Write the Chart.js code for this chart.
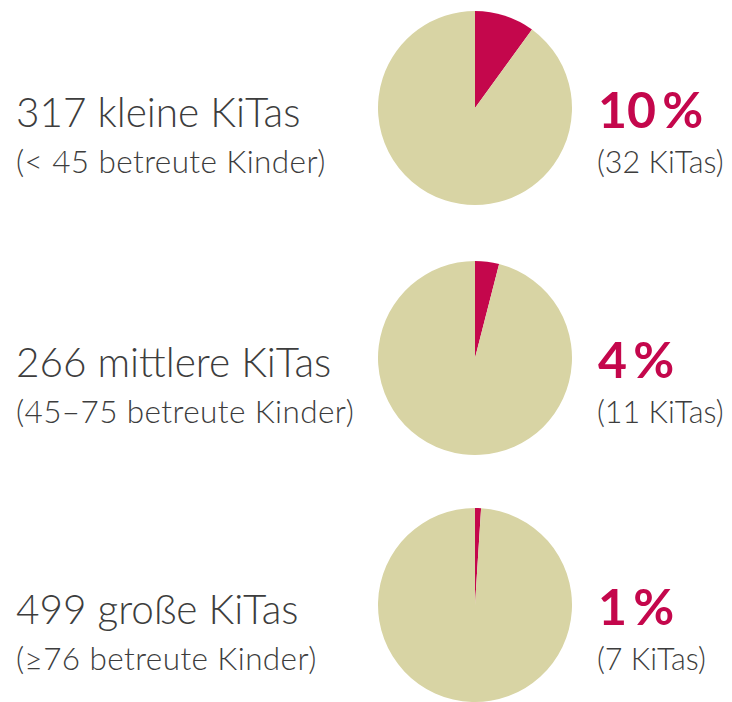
<!DOCTYPE html>
<html>
<head>
<meta charset="utf-8">
<script src="https://cdn.jsdelivr.net/npm/chart.js@4"></script>
<style>
    html, body { margin: 0; padding: 0; background: #fff; }
    body { width: 732px; height: 702px; position: relative; overflow: hidden; font-family: Lato, sans-serif; }
    .title { position: absolute; left: 16px; font-size: 40.5px; font-weight: 300; color: #3d3d3d; line-height: 1; white-space: nowrap; }
    .sub { position: absolute; left: 16px; font-size: 31.5px; letter-spacing: 0.4px; font-weight: 300; color: #3d3d3d; line-height: 1; white-space: nowrap; }
    .pct { position: absolute; left: 598px; font-size: 50px; font-weight: 700; color: #c4074c; line-height: 1; white-space: nowrap; }
    .count { position: absolute; left: 597px; font-size: 30.5px; font-weight: 300; color: #3d3d3d; line-height: 1; white-space: nowrap; }
    canvas { position: absolute; }
</style>
</head>
<body>
<script>
    // Chart data
    const groupTitles = ['317 kleine KiTas', '266 mittlere KiTas', '499 große KiTas']
    const groupRanges = ['(< 45 betreute Kinder)', '(45–75 betreute Kinder)', '(≥76 betreute Kinder)']
    const sharePercent = [10, 4, 1]
    const shareCounts = [32, 11, 7]
    const sliceColors = ['#c4074c', '#d8d4a4']

    // Layout of each row
    const rowCenters = [108, 358, 605]
    const pieCenterX = 474.5
    const pieSize = 194

    rowCenters.forEach((cy, i) => {
        const canvas = document.createElement('canvas')
        canvas.width = pieSize
        canvas.height = pieSize
        canvas.style.width = pieSize + 'px'
        canvas.style.height = pieSize + 'px'
        canvas.style.left = (pieCenterX - pieSize / 2) + 'px'
        canvas.style.top = (cy - pieSize / 2) + 'px'
        document.body.appendChild(canvas)

        new Chart(canvas.getContext('2d'), {
            type: 'pie',
            data: {
                labels: ['Anteil', 'Rest'],
                datasets: [{
                    data: [sharePercent[i], 100 - sharePercent[i]],
                    backgroundColor: sliceColors,
                    borderWidth: 0
                }]
            },
            options: {
                responsive: false,
                animation: false,
                layout: { padding: 0 },
                plugins: {
                    legend: { display: false },
                    tooltip: { enabled: false }
                }
            }
        })

        const addText = (cls, text, top) => {
            const el = document.createElement('div')
            el.className = cls
            el.textContent = text
            el.style.top = top + 'px'
            document.body.appendChild(el)
        }

        addText('title', groupTitles[i], cy - 16)
        addText('sub', groupRanges[i], cy + 38)
        addText('pct', sharePercent[i] + '\u2009%', cy - 24.5)
        addText('count', '(' + shareCounts[i] + ' KiTas)', cy + 38)
    })
</script>
</body>
</html>
